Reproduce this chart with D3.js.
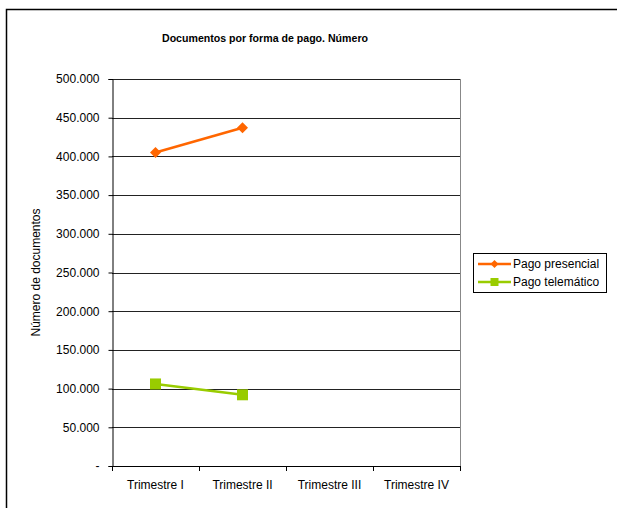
<!DOCTYPE html>
<html><head><meta charset="utf-8">
<script src="https://cdn.jsdelivr.net/npm/d3@7"></script>
<style>body{margin:0;background:#fff}svg{display:block;font-family:"Liberation Sans",Arial,sans-serif}</style>
</head><body><svg id="c" width="617" height="508"></svg>
<script>
const categories = ["Trimestre I","Trimestre II","Trimestre III","Trimestre IV"];
const presencial = [405000, 437000, null, null];
const telematico = [106000, 92000, null, null];
const yTicks = [0,50000,100000,150000,200000,250000,300000,350000,400000,450000,500000];
const seriesNames = ["Pago presencial","Pago telemático"];
const colors = ["#FF6600","#99CC00"];

const svg = d3.select("#c");
svg.append("rect").attr("x",6.5).attr("y",9.5).attr("width",620).attr("height",520)
  .attr("fill","#fff").attr("stroke","#000").attr("stroke-width",1.5);

const L=112,R=460,T=79,B=466;
const x = d3.scaleBand().domain(categories).range([L,R]);
const y = d3.scaleLinear().domain([0,500000]).range([B,T]);
const fmt = v => v===0 ? "-" : d3.format(",")(v).replace(/,/g,".");
const FS = 12;

svg.append("text").attr("x",265).attr("y",42).attr("text-anchor","middle")
  .attr("font-size",10.6).attr("font-weight","bold").text("Documentos por forma de pago. Número");

svg.append("g").selectAll("line").data(yTicks.filter(d=>d>0)).join("line")
  .attr("x1",L).attr("x2",R).attr("y1",d=>Math.round(y(d))+0.5).attr("y2",d=>Math.round(y(d))+0.5)
  .attr("stroke","#222").attr("stroke-width",1);
svg.append("line").attr("x1",R+0.5).attr("x2",R+0.5).attr("y1",T).attr("y2",B).attr("stroke","#888");

const ya = svg.append("g").attr("transform",`translate(${L+0.5},0)`)
  .call(d3.axisLeft(y).tickValues(yTicks).tickFormat(fmt).tickSize(4).tickPadding(9));
ya.select(".domain").attr("stroke","#000");
ya.selectAll("text").attr("font-size",FS).attr("font-family","Liberation Sans, Arial, sans-serif").attr("fill","#000");

const xa = svg.append("g").attr("transform",`translate(0,${B+0.5})`)
  .call(d3.axisBottom(x).tickSize(0).tickPadding(14));
xa.select(".domain").remove();
xa.selectAll("text").attr("font-size",FS).attr("font-family","Liberation Sans, Arial, sans-serif").attr("fill","#000");
svg.append("line").attr("x1",L).attr("x2",R).attr("y1",B+0.5).attr("y2",B+0.5).attr("stroke","#000");
const xt = categories.map(c=>x(c)).concat([R]);
svg.append("g").selectAll("line").data(xt).join("line")
  .attr("x1",d=>Math.round(d)+0.5).attr("x2",d=>Math.round(d)+0.5).attr("y1",B).attr("y2",B+5).attr("stroke","#000");

svg.append("text").attr("transform",`translate(40,${(T+B)/2}) rotate(-90)`).attr("text-anchor","middle")
  .attr("font-size",FS).text("Número de documentos");

const cx = c => x(c)+x.bandwidth()/2;
const line = d3.line().defined(d=>d[1]!=null).x(d=>cx(d[0])).y(d=>y(d[1]));
const data = [presencial, telematico];
const dia = r => `M0,${-r}L${r},0L0,${r}L${-r},0Z`;
const sq = r => `M${-r},${-r}H${r}V${r}H${-r}Z`;
data.forEach((s,i)=>{
  const pts = categories.map((c,j)=>[c,s[j]]);
  svg.append("path").attr("d",line(pts)).attr("fill","none").attr("stroke",colors[i]).attr("stroke-width",2.5);
  svg.append("g").selectAll("path").data(pts.filter(d=>d[1]!=null)).join("path")
    .attr("transform",d=>`translate(${cx(d[0])},${y(d[1])})`)
    .attr("d", i===0?dia(5.5):sq(5.5)).attr("fill",colors[i]);
});

const lg = svg.append("g");
lg.append("rect").attr("x",473.5).attr("y",253.5).attr("width",133).attr("height",39).attr("fill","#fff").attr("stroke","#000");
seriesNames.forEach((n,i)=>{
  const yy = 264+i*18;
  lg.append("line").attr("x1",478).attr("x2",511).attr("y1",yy).attr("y2",yy).attr("stroke",colors[i]).attr("stroke-width",2.5);
  lg.append("path").attr("transform",`translate(494.5,${yy})`).attr("d", i===0?dia(4):sq(4)).attr("fill",colors[i]);
  lg.append("text").attr("x",513).attr("y",yy+4).attr("font-size",FS).text(n);
});
</script></body></html>
